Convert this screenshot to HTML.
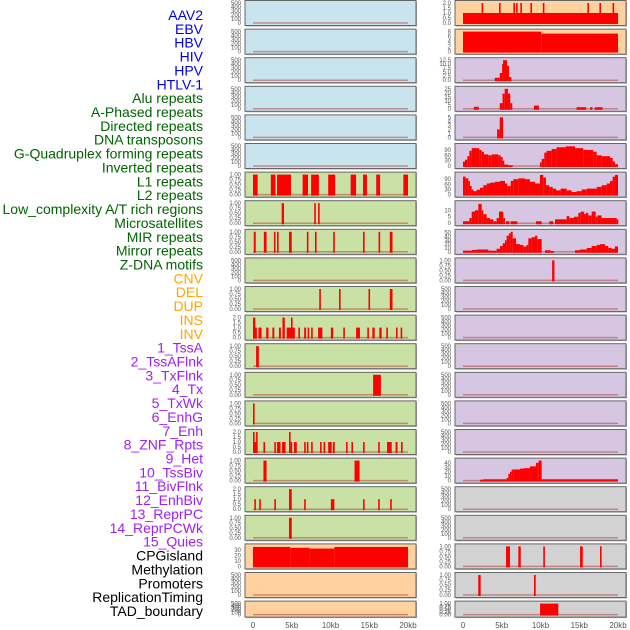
<!DOCTYPE html>
<html><head><meta charset="utf-8"><style>
html,body{margin:0;padding:0;background:#fff;}
svg{display:block;font-family:"Liberation Sans",sans-serif;}
</style></head><body>
<svg id="chart" width="630" height="630" viewBox="0 0 630 630" xmlns="http://www.w3.org/2000/svg"></svg>
<script>
// ---------- category labels ----------
const labelNames = ["AAV2","EBV","HBV","HIV","HPV","HTLV-1","Alu repeats","A-Phased repeats","Directed repeats","DNA transposons","G-Quadruplex forming repeats","Inverted repeats","L1 repeats","L2 repeats","Low_complexity A/T rich regions","Microsatellites","MIR repeats","Mirror repeats","Z-DNA motifs","CNV","DEL","DUP","INS","INV","1_TssA","2_TssAFlnk","3_TxFlnk","4_Tx","5_TxWk","6_EnhG","7_Enh","8_ZNF_Rpts","9_Het","10_TssBiv","11_BivFlnk","12_EnhBiv","13_ReprPC","14_ReprPCWk","15_Quies","CPGisland","Methylation","Promoters","ReplicationTiming","TAD_boundary"];
const labelGroups = [6,13,5,15,5];
const xTickValues = [0,5,10,15,20];
const xTickLabels = ["0","5kb","10kb","15kb","20kb"];

// ---------- tick sets ----------
const ticksEmpty = ["0","100","200","300","400","500"];
const ticksBin = ["0.00","0.25","0.50","0.75","1.00"];
const ticksTwo = ["0.0","0.5","1.0","1.5","2.0"];

// ---------- left column data [startKb, endKb, value] ----------
const leftL1 = [[0,0.6,1],[2.3,2.9,1],[3.1,4.9,1],[6.4,7.1,1],[7.5,8.5,1],[9.7,10.6,1],[12.6,13.3,1],[14.2,14.7,1],[15.9,16.4,1],[19.4,20,1]];
const leftLowComplex = [[3.7,4.0,1],[7.9,8.1,1],[8.4,8.6,1]];
const leftMIR = [[0.1,0.35,1],[1.4,1.75,1],[2.7,2.9,1],[3.1,3.3,1],[4.65,5.0,1],[6.95,7.15,1],[8.0,8.2,1],[10.35,10.55,1],[14.2,14.4,1],[16.2,16.4,1],[17.65,18.0,1]];
const leftDEL = [[8.55,8.75,1],[11.1,11.3,1],[14.9,15.1,1],[17.65,18.0,1]];
const leftINS = [[0,0.5,1],[0,0.3,2],[0.7,1.1,1],[1.7,2.0,1],[2.5,2.75,1],[3.35,3.6,1],[3.8,4.1,2],[4.35,5.4,1],[4.9,5.1,2],[5.85,6.05,1],[6.6,6.85,1],[7.05,7.25,1],[7.5,7.7,1],[8.4,8.95,1],[10.05,10.35,1],[11.65,11.85,1],[13.3,13.8,1],[14.75,14.95,1],[15.4,15.7,1],[16.3,16.6,1],[17.2,17.4,1],[18.45,18.65,1],[19.05,19.2,1]];
const leftTssA = [[0.4,0.75,1]];
const leftTssAFlnk = [[15.5,16.5,1]];
const leftTxFlnk = [[0,0.2,1]];
const leftTx = [[0,0.55,1],[0,0.2,2],[0.4,0.6,2],[1.35,1.55,1],[2.75,2.9,1],[3.1,3.55,1],[3.75,4.2,1],[4.65,4.85,2],[4.85,5.0,1],[5.3,5.65,1],[6.6,6.8,1],[6.95,7.1,1],[7.5,7.7,1],[8.65,8.85,1],[9.1,9.3,1],[9.7,10.15,1],[10.3,10.55,1],[12.0,12.2,1],[12.7,12.85,1],[14.2,14.4,1],[16.15,16.35,1],[17.3,17.9,1],[18.4,18.65,1],[19.1,19.25,1]];
const leftTxWk = [[1.35,1.75,1],[13.1,13.75,1]];
const leftEnhG = [[0.17,0.35,1],[0.8,1.0,1],[2.75,2.9,1],[4.65,5.0,2],[6.6,6.8,1],[10.05,10.5,1],[14.2,14.4,1],[16.15,16.35,1],[17.7,17.9,1]];
const leftEnh = [[4.65,5.0,1]];
const leftCPG = [[0,4.8,36],[4.8,7.3,34.5],[7.3,10.5,33],[10.5,20,36]];

// ---------- right column data ----------
const rightAAV2 = [[0,20,1],[2.4,2.6,2],[4.65,4.85,2],[6.5,6.7,2],[6.85,7.0,2],[7.4,7.6,2],[8.7,8.9,2],[10.3,10.5,2],[16.05,16.25,2],[17.6,17.8,2],[19.3,19.5,2]];
const rightEBV = [[0,10.1,8],[10.1,20,7.2]];
const rightHIVEdges = [4.1,4.74,5.04,5.17,5.68,5.94,6.24];
const rightHIVVals = [1.5,4.5,10,12.5,9,2];
const rightHPV = [[1.4,2.05,2.5],[4.74,5.1,7],[5.1,5.38,19],[5.38,5.8,25],[5.8,6.1,19],[6.1,6.36,7],[9.15,9.8,4],[14.65,15.9,2],[16.4,16.7,2],[17.0,18.0,2]];
const rightHTLV = [[4.4,4.74,2],[4.74,5.17,5]];
const rightAluEdges = [0,0.26,0.56,0.82,1.12,2.11,2.41,2.71,3.27,3.7,4.56,4.86,5.12,5.29,5.85,6.41,9.93,10.15,10.49,10.79,11.44,12.08,13.29,14.45,15.52,16.81,17.25,17.89,18.97,19.31,19.61,20];
const rightAluVals = [25,35,55,85,100,90,80,65,60,65,60,50,30,8,4,0,20,40,75,85,95,105,110,100,90,80,60,55,45,25,10];
const rightGQEdges = [0,0.34,0.69,0.9,1.12,1.33,1.76,2.19,2.62,3.05,3.48,4.13,4.77,5.42,5.72,6.15,6.49,7.14,8.0,8.64,9.29,9.93,10.36,10.71,11.14,11.57,12.0,12.6,13.37,14.02,14.66,15.31,15.96,17.25,17.89,18.54,18.97,19.31,19.61,20];
const rightGQVals = [105,95,80,50,30,20,28,40,55,65,70,75,80,65,50,80,90,95,90,75,65,115,100,55,45,35,25,35,25,15,20,30,35,45,55,65,80,105,115];
const rightLCEdges = [0,0.82,1.12,1.55,1.98,2.41,2.62,3.05,3.48,3.91,4.34,4.64,5.2,5.42,5.55,5.98,6.15,7.01,9.42,10.15,11.14,11.65,11.87,13.37,13.72,14.32,14.88,15.18,15.61,15.87,16.17,16.6,17.12,17.33,17.89,19.83,20];
const rightLCVals = [1.5,4,9,10,15,10,7,4,3,1.5,4,9,4,0,1.5,0,1.5,0,1.5,0,1.5,0,3,5.5,4,5,8,9,7,8,6,9,5,6,4,3];
const rightMIREdges = [0,1.12,1.76,3.27,4.34,4.77,5.12,5.42,5.63,5.93,6.15,6.41,6.84,7.35,7.78,8.21,8.43,8.86,9.29,9.59,10.15,10.58,11.31,11.74,14.45,15.1,15.96,16.6,17.25,17.68,18.32,18.75,19.18,19.61,20];
const rightMIRVals = [3,5,6,3,8,15,22,30,42,48,52,35,20,18,14,18,35,38,42,33,0,4,2,0,4,6,10,15,18,20,15,10,8,14];
const rightMirror = [[11.5,11.8,1]];
const rightTssBivEdges = [2.19,2.62,5.63,5.85,6.06,6.28,6.49,7.35,7.87,8.64,9.42,9.76,10.15,20];
const rightTssBivVals = [2,3,6,15,20,25,25,27,28,32,40,45,3];
const rightCPG = [[5.55,6.06,1],[7.14,7.45,1],[10.36,10.54,1],[15.1,15.45,1],[17.68,17.85,1]];
const rightMeth = [[1.97,2.28,1],[9.16,9.38,1]];
const rightTAD = [[9.94,12.3,1]];

function stepsToBars(edges, vals){ const out=[]; for(let i=0;i<vals.length;i++){ if(vals[i]>0) out.push([edges[i],edges[i+1],vals[i]]); } return out; }

const C = {blue:"#c9e4ec", green:"#c9e1a5", peach:"#ffd19f", purple:"#d6c6e2", gray:"#d2d2d2"};
const leftPanels = [
 [C.blue,[],ticksEmpty,500],[C.blue,[],ticksEmpty,500],[C.blue,[],ticksEmpty,500],[C.blue,[],ticksEmpty,500],[C.blue,[],ticksEmpty,500],[C.blue,[],ticksEmpty,500],
 [C.green,leftL1,ticksBin,1],[C.green,leftLowComplex,ticksBin,1],[C.green,leftMIR,ticksBin,1],[C.green,[],ticksEmpty,500],
 [C.green,leftDEL,ticksBin,1],[C.green,leftINS,ticksTwo,2],[C.green,leftTssA,ticksBin,1],[C.green,leftTssAFlnk,ticksBin,1],
 [C.green,leftTxFlnk,ticksBin,1],[C.green,leftTx,ticksTwo,2],[C.green,leftTxWk,ticksBin,1],[C.green,leftEnhG,ticksTwo,2],[C.green,leftEnh,ticksBin,1],
 [C.peach,leftCPG,["0","10","20","30"],37,30],[C.peach,[],ticksEmpty,500],[C.peach,[],ticksEmpty,500]
];
const rightPanels = [
 [C.peach,rightAAV2,ticksTwo,2],[C.peach,rightEBV,["0","2","4","6","8"],8],
 [C.purple,stepsToBars(rightHIVEdges,rightHIVVals),["0.0","2.5","5.0","7.5","10.0","12.5"],12.5],
 [C.purple,rightHPV,["0","5","10","15","20","25"],25],
 [C.purple,rightHTLV,["0","1","2","3","4","5"],5],
 [C.purple,stepsToBars(rightAluEdges,rightAluVals),["0","30","60","90"],112,90],
 [C.purple,stepsToBars(rightGQEdges,rightGQVals),["0","30","60","90"],117,90],
 [C.purple,stepsToBars(rightLCEdges,rightLCVals),["0","5","10"],15.5,10],
 [C.purple,stepsToBars(rightMIREdges,rightMIRVals),["0","10","20","30","40","50"],52,50],
 [C.purple,rightMirror,ticksBin,1],
 [C.purple,[],ticksEmpty,500],[C.purple,[],ticksEmpty,500],[C.purple,[],ticksEmpty,500],[C.purple,[],ticksEmpty,500],[C.purple,[],ticksEmpty,500],[C.purple,[],ticksEmpty,500],
 [C.purple,stepsToBars(rightTssBivEdges,rightTssBivVals),["0","10","20","30","40"],45,40],
 [C.gray,[],ticksEmpty,500],[C.gray,[],ticksEmpty,500],
 [C.gray,rightCPG,ticksBin,1],[C.gray,rightMeth,ticksBin,1],[C.gray,rightTAD,ticksBin,1]
];

const NS="http://www.w3.org/2000/svg";
const svg=document.getElementById("chart");
function mk(tag,attrs,parent){const e=document.createElementNS(NS,tag);for(const k in attrs)e.setAttribute(k,attrs[k]);(parent||svg).appendChild(e);return e;}

const groupColors=["#0000ee","#006400","#ffa500","#a020f0","#000000"];
let gi=0,cnt=0;
labelNames.forEach((n,k)=>{
  while(cnt>=labelGroups[gi]){cnt=0;gi++;}
  cnt++;
  const t=mk("text",{x:203,y:15+k*13.86+5,"text-anchor":"end","font-size":"14",fill:groupColors[gi]});
  t.textContent=n;
  
  
});

function drawColumn(panels,px0,x0,colName){
  const xs=kb=>x0+kb*7.75;
  panels.forEach((p,i)=>{
    const [color,bars,ticks,ymax,tmaxIn]=p;
    const top=0.5+i*28.6, h=(i===21?16:25);
    const g=mk("g",{});
    
    
    mk("rect",{x:px0+1,y:top+1,width:171,height:h,fill:"#aaa"},g);
    mk("rect",{x:px0,y:top,width:171,height:h,fill:color,stroke:"#666","stroke-width":1},g);
    const y0=top+h-2.5, y1=top+2.5;
    const ys=v=>y0-(v/ymax)*(y0-y1);
    const tmax=tmaxIn!==undefined?tmaxIn:ymax;
    const bl=mk("line",{x1:xs(0),x2:xs(20),y1:y0,y2:y0,stroke:"rgba(170,40,40,0.45)","stroke-width":1.5},g);
    
    
    bars.forEach(b=>{
      const r=mk("rect",{x:xs(b[0]),y:ys(b[2]),width:Math.max(1.6,xs(b[1])-xs(b[0])),height:y0-ys(b[2])+1,fill:"#ff0000"},g);
      
      
    });
    ticks.forEach((tl,j)=>{
      const v=tmax*j/(ticks.length-1);
      const t=mk("text",{x:px0-4,y:ys(v)+2,"text-anchor":"end","font-size":"6",fill:"#555"},g);
      t.textContent=tl;
      
      
    });
  });
  xTickValues.forEach((v,j)=>{
    const t=mk("text",{x:xs(v),y:628,"text-anchor":"middle","font-size":"8",fill:"#555"});
    t.textContent=xTickLabels[j];
    
    
  });
}
drawColumn(leftPanels,245,253,"left");
drawColumn(rightPanels,455,463,"right");
</script>
</body></html>
